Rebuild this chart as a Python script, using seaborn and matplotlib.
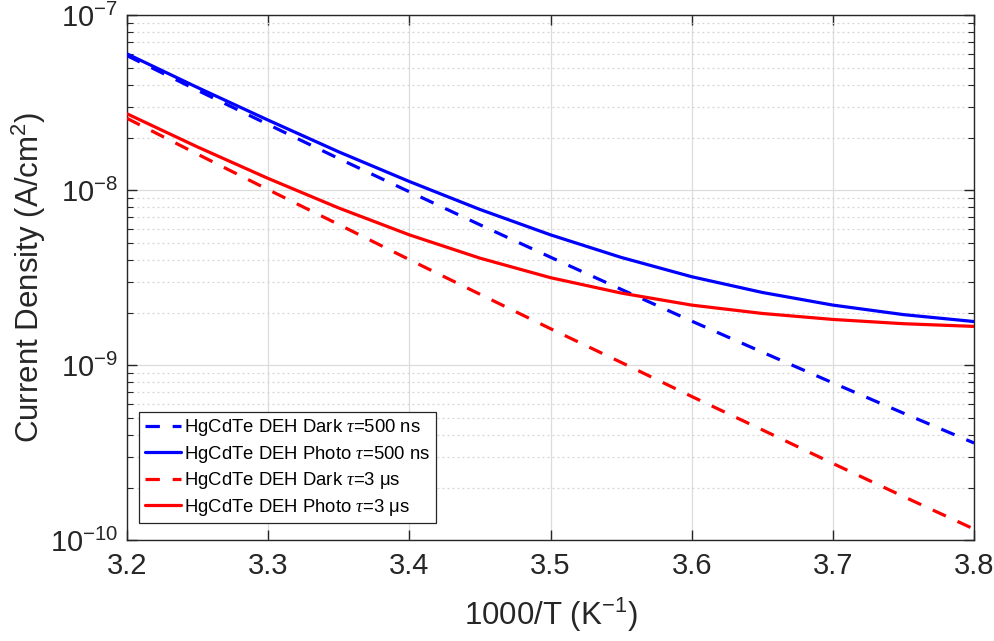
import numpy as np
import pandas as pd
import matplotlib
matplotlib.use("Agg")
import matplotlib.pyplot as plt
from matplotlib.ticker import LogLocator, NullFormatter, FixedLocator
import seaborn as sns

# Inverse temperature axis (1000/T, K^-1)
inv_temp = [3.20, 3.25, 3.30, 3.35, 3.40, 3.45, 3.50, 3.55, 3.60, 3.65, 3.70, 3.75, 3.80]

# Current density (A/cm^2)
dark_500ns = [5.89e-8, 3.73e-8, 2.38e-8, 1.52e-8, 9.82e-9, 6.36e-9, 4.15e-9,
              2.72e-9, 1.79e-9, 1.19e-9, 7.94e-10, 5.33e-10, 3.60e-10]
photo_500ns = [6.03e-8, 3.87e-8, 2.52e-8, 1.66e-8, 1.124e-8, 7.78e-9, 5.57e-9,
               4.14e-9, 3.21e-9, 2.61e-9, 2.21e-9, 1.95e-9, 1.78e-9]
dark_3us = [2.58e-8, 1.61e-8, 1.01e-8, 6.38e-9, 4.02e-9, 2.55e-9, 1.62e-9,
            1.04e-9, 6.64e-10, 4.28e-10, 2.75e-10, 1.78e-10, 1.16e-10]
photo_3us = [2.74e-8, 1.77e-8, 1.17e-8, 7.93e-9, 5.57e-9, 4.10e-9, 3.17e-9,
             2.59e-9, 2.21e-9, 1.98e-9, 1.83e-9, 1.73e-9, 1.67e-9]

labels = [
    r"HgCdTe DEH Dark $\mathit{\tau}$=500 ns",
    r"HgCdTe DEH Photo $\mathit{\tau}$=500 ns",
    r"HgCdTe DEH Dark $\mathit{\tau}$=3 μs",
    r"HgCdTe DEH Photo $\mathit{\tau}$=3 μs",
]
x_ticks = [3.2, 3.3, 3.4, 3.5, 3.6, 3.7, 3.8]

sns.set_theme(style="white")
plt.rcParams["font.family"] = ["Liberation Sans", "DejaVu Sans"]
plt.rcParams["mathtext.fontset"] = "custom"
plt.rcParams["mathtext.rm"] = "Liberation Sans"
plt.rcParams["mathtext.it"] = "Liberation Serif:italic"
plt.rcParams["mathtext.default"] = "regular"

text_color = "#262626"
fig = plt.figure(figsize=(9.95, 6.41), dpi=100)
ax = fig.add_axes([0.1276, 0.157, 0.8514, 0.819])

series = [
    (dark_500ns, labels[0], "#0000ff", True),
    (photo_500ns, labels[1], "#0000ff", False),
    (dark_3us, labels[2], "#ff0000", True),
    (photo_3us, labels[3], "#ff0000", False),
]
for values, label, color, dashed in series:
    df = pd.DataFrame({"x": inv_temp, "y": values})
    sns.lineplot(data=df, x="x", y="y", ax=ax, color=color, linewidth=2.3,
                 label=label, zorder=3)
    if dashed:
        ax.lines[-1].set_dashes((4.5, 4.0))

ax.set_yscale("log")
ax.set_xlim(3.2, 3.8)
ax.set_ylim(1e-10, 1e-7)
ax.xaxis.set_major_locator(FixedLocator(x_ticks))
ax.set_xticklabels([f"{t:.1f}" for t in x_ticks])
ax.yaxis.set_major_locator(LogLocator(base=10, numticks=10))
ax.yaxis.set_minor_locator(LogLocator(base=10, subs=np.arange(2, 10), numticks=20))
ax.yaxis.set_minor_formatter(NullFormatter())

# Grid: solid major lines, dotted minor lines on the log axis
ax.grid(True, which="major", color="#dcdcdc", linewidth=0.9, linestyle="-", zorder=0)
ax.grid(True, which="minor", axis="y", color="#d4d4d4", linewidth=0.9,
        linestyle=(0, (1.5, 2.5)), zorder=0)
ax.set_axisbelow(True)

for side in ["left", "right", "top", "bottom"]:
    ax.spines[side].set_visible(True)
    ax.spines[side].set_color(text_color)
    ax.spines[side].set_linewidth(1.0)

ax.tick_params(which="both", direction="in", top=True, right=True,
               left=True, bottom=True, colors=text_color, labelcolor=text_color)
ax.tick_params(which="major", length=7, width=1.0, labelsize=21)
ax.tick_params(axis="x", which="major", pad=8.5)
ax.tick_params(axis="y", which="major", pad=6.5)
ax.tick_params(which="minor", length=4, width=0.8)

ax.set_xlabel(r"1000/T (K$^{-1}$)", fontsize=22.5, color=text_color, labelpad=11)
ax.set_ylabel(r"Current Density (A/cm$^{2}$)", fontsize=22.5, color=text_color)
ax.yaxis.set_label_coords(-0.093, 0.5)

leg = ax.legend(loc="lower left", bbox_to_anchor=(0.0142, 0.0324),
                borderaxespad=0.0, fontsize=13.3, frameon=True, fancybox=False,
                framealpha=1.0, edgecolor=text_color, handlelength=1.95,
                handletextpad=0.2, labelspacing=0.3, borderpad=0.3)
leg.get_frame().set_linewidth(0.9)
for t in leg.get_texts():
    t.set_color("#000000")

fig.savefig("out.png", dpi=100)
